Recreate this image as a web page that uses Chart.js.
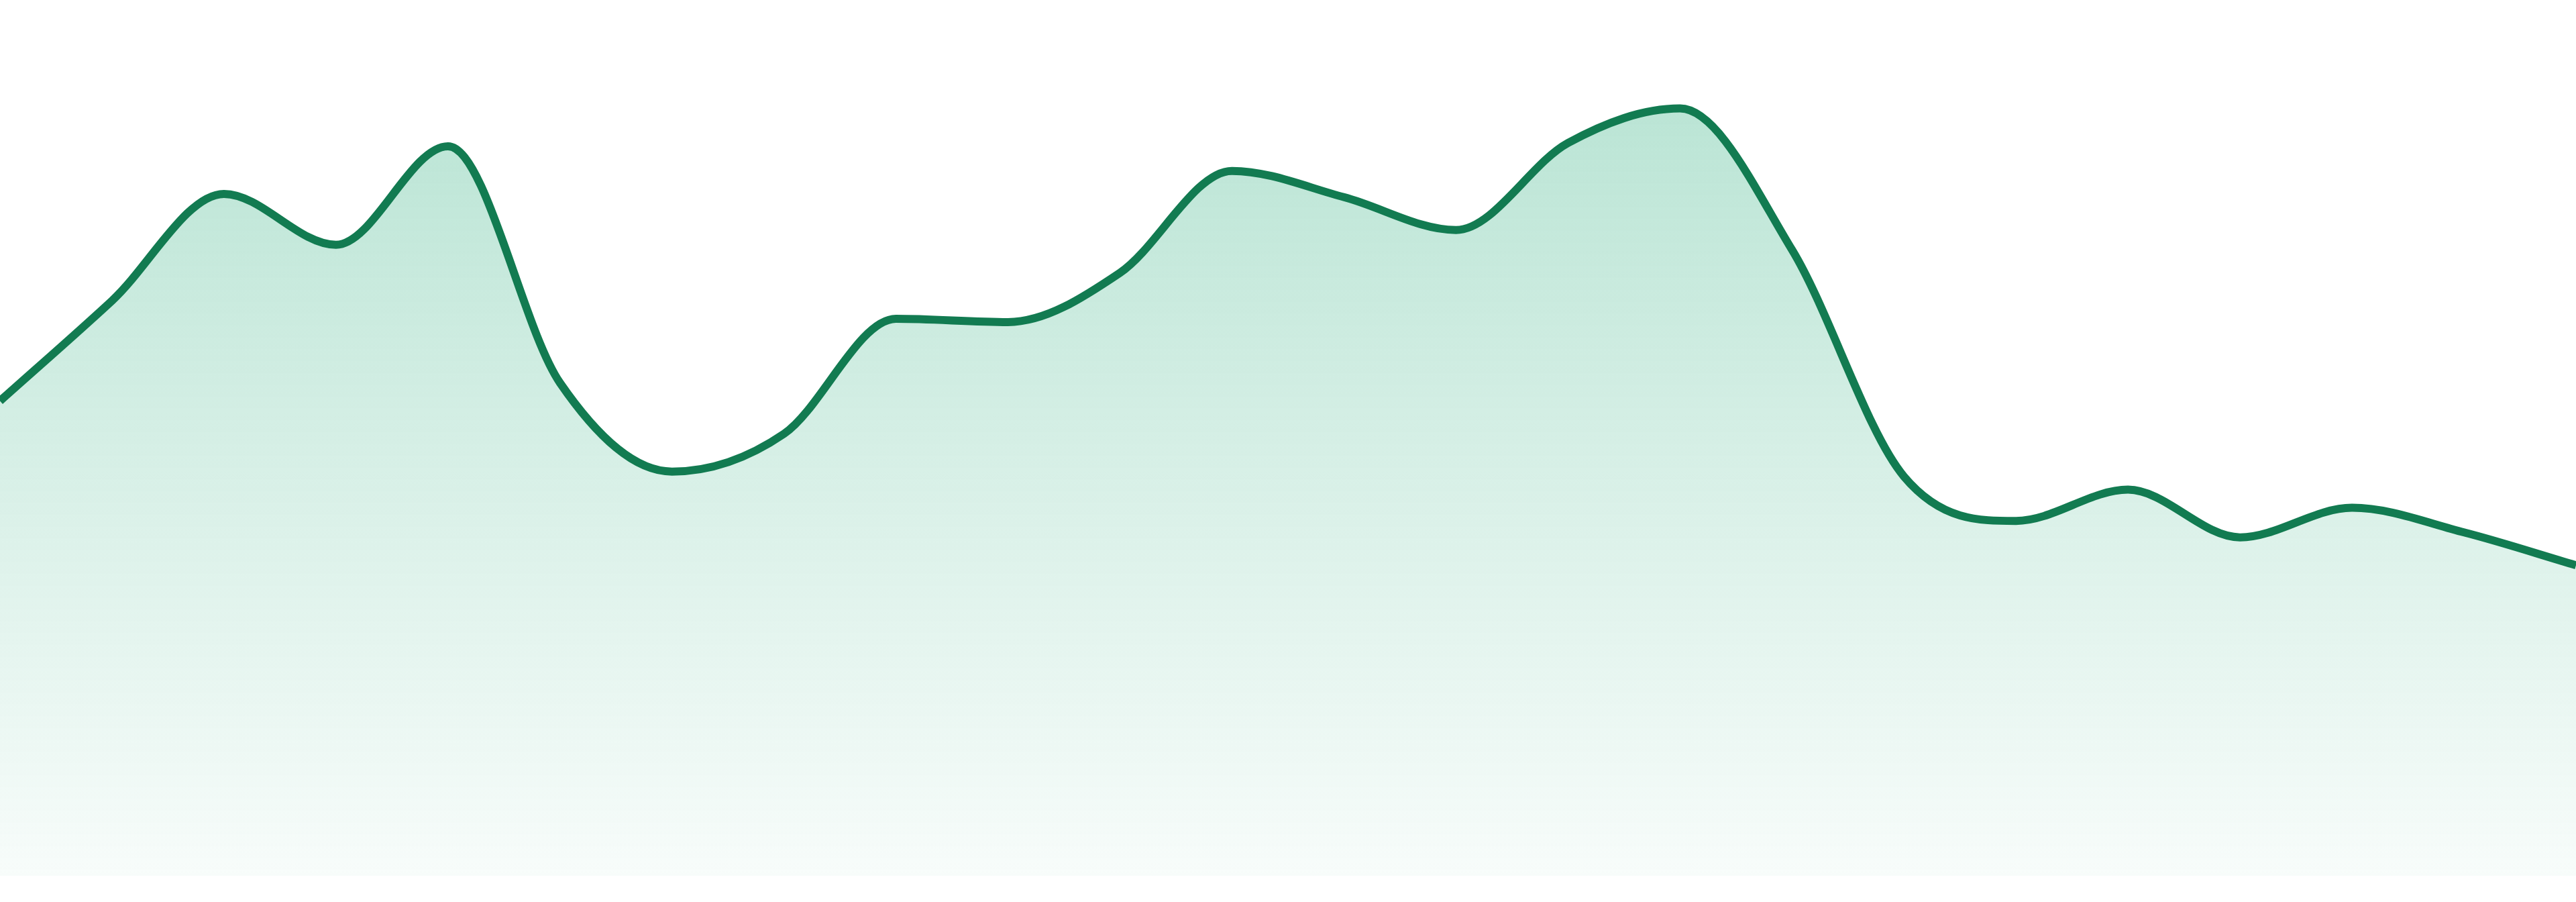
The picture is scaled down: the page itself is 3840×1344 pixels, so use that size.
<!DOCTYPE html>
<html>
<head>
<meta charset="utf-8">
<script src="https://cdn.jsdelivr.net/npm/chart.js@4/dist/chart.umd.min.js"></script>
<style>
	html, body { margin: 0; padding: 0; background: #ffffff; }
	#wrap { width: 3840px; height: 1344px; position: relative; }
</style>
</head>
<body>
<div id="wrap"><canvas id="chart"></canvas></div>
<script>
// data
const labels = ['1', '2', '3', '4', '5', '6', '7', '8', '9', '10', '11', '12',
	'13', '14', '15', '16', '17', '18', '19', '20', '21', '22', '23', '24'];
const values = [289, 350, 415, 384, 444, 300, 246, 269, 339, 337, 367, 429,
	413, 393, 446, 467, 381, 243, 216, 235, 206, 224, 209, 189];
const yMin = 0;
const yMax = 533;

const lineColor = '#127b51';

function fillGradient(context)
{
	let chart = context.chart;
	let area = chart.chartArea;
	if(!area)
	{
		return 'rgba(16,163,108,0.2)';
	}
	let g = chart.ctx.createLinearGradient(0, area.top, 0, area.bottom);
	g.addColorStop(0, 'rgba(16,163,108,0.32)');
	g.addColorStop(1, 'rgba(16,163,108,0.03)');
	return g;
}

new Chart(document.getElementById('chart'),
	{
		type: 'line',
		data:
			{
				labels: labels,
				datasets: [
					{
						data: values,
						borderColor: lineColor,
						borderWidth: 12,
						backgroundColor: fillGradient,
						fill: 'start',
						cubicInterpolationMode: 'monotone',
						pointRadius: 0,
						pointHoverRadius: 0
					}]
			},
		options:
			{
				responsive: true,
				maintainAspectRatio: false,
				animation: false,
				layout: { padding: { top: 0, bottom: 39, left: 0, right: 0 } },
				plugins:
					{
						legend: { display: false },
						tooltip: { enabled: false }
					},
				scales:
					{
						x: { display: false, offset: false },
						y: { display: false, min: yMin, max: yMax }
					}
			}
	});
</script>
</body>
</html>
